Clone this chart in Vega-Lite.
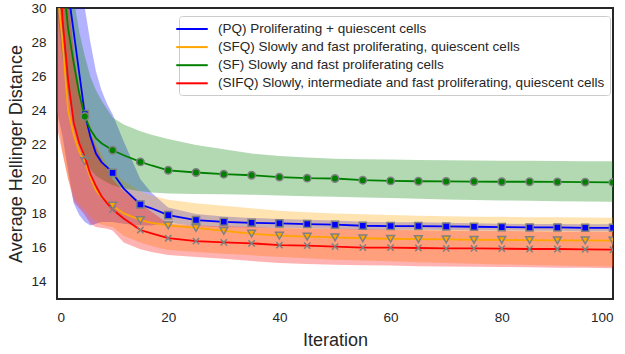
{
"$schema": "https://vega.github.io/schema/vega-lite/v6.json",
"width": 556, "height": 291,
"autosize": {"type": "none"},
"padding": {"left": 57, "top": 8, "right": 12, "bottom": 55},
"background": "white",
"datasets": {"d": [
{"k":"PQ","it":0,"m":42,"lo":24,"hi":50},
{"k":"PQ","it":1,"m":36,"lo":22.5,"hi":46},
{"k":"PQ","it":2,"m":31,"lo":20.5,"hi":40},
{"k":"PQ","it":3,"m":28.6,"lo":18.6,"hi":35},
{"k":"PQ","it":4,"m":26.2,"lo":17.9,"hi":32},
{"k":"PQ","it":5,"m":23.8,"lo":17.5,"hi":30},
{"k":"PQ","it":6,"m":22.5,"lo":17.3,"hi":28},
{"k":"PQ","it":7,"m":21.5,"lo":17.4,"hi":26.3},
{"k":"PQ","it":8,"m":21.0,"lo":17.5,"hi":25.2},
{"k":"PQ","it":9,"m":20.7,"lo":17.5,"hi":24.4},
{"k":"PQ","it":10,"m":20.37,"lo":17.5,"hi":23.8},
{"k":"PQ","it":12,"m":19.45,"lo":17.4,"hi":22.2},
{"k":"PQ","it":15,"m":18.52,"lo":17.3,"hi":20.0},
{"k":"PQ","it":17,"m":18.3,"lo":17.3,"hi":19.2},
{"k":"PQ","it":20,"m":17.9,"lo":17.45,"hi":18.35},
{"k":"PQ","it":25,"m":17.61,"lo":17.26,"hi":17.96},
{"k":"PQ","it":30,"m":17.51,"lo":17.2,"hi":17.82},
{"k":"PQ","it":35,"m":17.45,"lo":17.17,"hi":17.73},
{"k":"PQ","it":40,"m":17.42,"lo":17.16,"hi":17.68},
{"k":"PQ","it":45,"m":17.38,"lo":17.13,"hi":17.63},
{"k":"PQ","it":50,"m":17.34,"lo":17.1,"hi":17.58},
{"k":"PQ","it":55,"m":17.28,"lo":17.05,"hi":17.51},
{"k":"PQ","it":60,"m":17.26,"lo":17.04,"hi":17.48},
{"k":"PQ","it":65,"m":17.26,"lo":17.04,"hi":17.48},
{"k":"PQ","it":70,"m":17.24,"lo":17.03,"hi":17.45},
{"k":"PQ","it":75,"m":17.22,"lo":17.01,"hi":17.43},
{"k":"PQ","it":80,"m":17.2,"lo":17.0,"hi":17.4},
{"k":"PQ","it":85,"m":17.18,"lo":16.98,"hi":17.38},
{"k":"PQ","it":90,"m":17.18,"lo":16.98,"hi":17.38},
{"k":"PQ","it":95,"m":17.16,"lo":16.96,"hi":17.36},
{"k":"PQ","it":100,"m":17.16,"lo":16.96,"hi":17.36},
{"k":"SFQ","it":0,"m":31.3,"lo":24,"hi":40},
{"k":"SFQ","it":1,"m":28.0,"lo":21.5,"hi":35},
{"k":"SFQ","it":2,"m":24.0,"lo":20.0,"hi":30},
{"k":"SFQ","it":3,"m":22.6,"lo":19.0,"hi":27.5},
{"k":"SFQ","it":4,"m":21.6,"lo":18.5,"hi":25.8},
{"k":"SFQ","it":5,"m":21.05,"lo":18.2,"hi":24.5},
{"k":"SFQ","it":6,"m":20.1,"lo":17.8,"hi":23.2},
{"k":"SFQ","it":7,"m":19.35,"lo":17.5,"hi":22.2},
{"k":"SFQ","it":8,"m":18.95,"lo":17.35,"hi":21.5},
{"k":"SFQ","it":9,"m":18.65,"lo":17.25,"hi":20.9},
{"k":"SFQ","it":10,"m":18.45,"lo":17.2,"hi":20.5},
{"k":"SFQ","it":12,"m":18.0,"lo":16.7,"hi":19.9},
{"k":"SFQ","it":15,"m":17.61,"lo":16.3,"hi":19.3},
{"k":"SFQ","it":17,"m":17.45,"lo":16.1,"hi":19.05},
{"k":"SFQ","it":20,"m":17.3,"lo":15.86,"hi":18.8},
{"k":"SFQ","it":25,"m":17.15,"lo":15.75,"hi":18.6},
{"k":"SFQ","it":30,"m":16.98,"lo":15.65,"hi":18.45},
{"k":"SFQ","it":35,"m":16.82,"lo":15.55,"hi":18.3},
{"k":"SFQ","it":40,"m":16.7,"lo":15.45,"hi":18.15},
{"k":"SFQ","it":45,"m":16.64,"lo":15.38,"hi":18.07},
{"k":"SFQ","it":50,"m":16.6,"lo":15.3,"hi":18.0},
{"k":"SFQ","it":55,"m":16.55,"lo":15.25,"hi":17.95},
{"k":"SFQ","it":60,"m":16.52,"lo":15.2,"hi":17.9},
{"k":"SFQ","it":65,"m":16.5,"lo":15.15,"hi":17.86},
{"k":"SFQ","it":70,"m":16.48,"lo":15.1,"hi":17.83},
{"k":"SFQ","it":75,"m":16.46,"lo":15.06,"hi":17.81},
{"k":"SFQ","it":80,"m":16.45,"lo":15.02,"hi":17.8},
{"k":"SFQ","it":85,"m":16.44,"lo":14.99,"hi":17.78},
{"k":"SFQ","it":90,"m":16.43,"lo":14.95,"hi":17.77},
{"k":"SFQ","it":95,"m":16.42,"lo":14.92,"hi":17.76},
{"k":"SFQ","it":100,"m":16.41,"lo":14.9,"hi":17.75},
{"k":"SF","it":0,"m":38,"lo":30,"hi":44},
{"k":"SF","it":1,"m":32,"lo":27,"hi":38},
{"k":"SF","it":2,"m":28.8,"lo":25,"hi":34},
{"k":"SF","it":3,"m":26.8,"lo":23.5,"hi":30.6},
{"k":"SF","it":4,"m":25.0,"lo":22.2,"hi":28.6},
{"k":"SF","it":5,"m":23.66,"lo":21.2,"hi":27.2},
{"k":"SF","it":6,"m":22.9,"lo":20.6,"hi":26.0},
{"k":"SF","it":7,"m":22.4,"lo":20.2,"hi":25.2},
{"k":"SF","it":8,"m":22.1,"lo":20.0,"hi":24.6},
{"k":"SF","it":9,"m":21.9,"lo":19.8,"hi":24.1},
{"k":"SF","it":10,"m":21.69,"lo":19.65,"hi":23.6},
{"k":"SF","it":12,"m":21.4,"lo":19.45,"hi":23.2},
{"k":"SF","it":15,"m":21.01,"lo":19.3,"hi":22.8},
{"k":"SF","it":17,"m":20.8,"lo":19.22,"hi":22.6},
{"k":"SF","it":20,"m":20.52,"lo":19.17,"hi":22.35},
{"k":"SF","it":25,"m":20.39,"lo":19.14,"hi":22.0},
{"k":"SF","it":30,"m":20.29,"lo":19.12,"hi":21.75},
{"k":"SF","it":35,"m":20.23,"lo":19.09,"hi":21.5},
{"k":"SF","it":40,"m":20.12,"lo":19.05,"hi":21.35},
{"k":"SF","it":45,"m":20.06,"lo":19.0,"hi":21.27},
{"k":"SF","it":50,"m":20.04,"lo":18.97,"hi":21.2},
{"k":"SF","it":55,"m":19.94,"lo":18.93,"hi":21.17},
{"k":"SF","it":60,"m":19.9,"lo":18.9,"hi":21.15},
{"k":"SF","it":65,"m":19.88,"lo":18.86,"hi":21.12},
{"k":"SF","it":70,"m":19.87,"lo":18.82,"hi":21.1},
{"k":"SF","it":75,"m":19.86,"lo":18.79,"hi":21.09},
{"k":"SF","it":80,"m":19.85,"lo":18.76,"hi":21.08},
{"k":"SF","it":85,"m":19.85,"lo":18.74,"hi":21.07},
{"k":"SF","it":90,"m":19.84,"lo":18.71,"hi":21.06},
{"k":"SF","it":95,"m":19.83,"lo":18.69,"hi":21.05},
{"k":"SF","it":100,"m":19.81,"lo":18.68,"hi":21.05},
{"k":"SIFQ","it":0,"m":35.5,"lo":23,"hi":44},
{"k":"SIFQ","it":1,"m":29.3,"lo":21.5,"hi":37},
{"k":"SIFQ","it":2,"m":25.8,"lo":20.0,"hi":31},
{"k":"SIFQ","it":3,"m":23.3,"lo":18.7,"hi":27.5},
{"k":"SIFQ","it":4,"m":22.1,"lo":18.3,"hi":25.2},
{"k":"SIFQ","it":5,"m":21.3,"lo":17.9,"hi":23.7},
{"k":"SIFQ","it":6,"m":20.3,"lo":17.4,"hi":22.7},
{"k":"SIFQ","it":7,"m":19.6,"lo":17.2,"hi":21.9},
{"k":"SIFQ","it":8,"m":19.0,"lo":17.15,"hi":21.2},
{"k":"SIFQ","it":9,"m":18.6,"lo":17.1,"hi":20.6},
{"k":"SIFQ","it":10,"m":18.23,"lo":17.0,"hi":20.0},
{"k":"SIFQ","it":12,"m":17.7,"lo":16.3,"hi":19.3},
{"k":"SIFQ","it":15,"m":17.03,"lo":15.9,"hi":18.6},
{"k":"SIFQ","it":17,"m":16.83,"lo":15.75,"hi":18.1},
{"k":"SIFQ","it":20,"m":16.55,"lo":15.57,"hi":17.4},
{"k":"SIFQ","it":25,"m":16.38,"lo":15.45,"hi":17.3},
{"k":"SIFQ","it":30,"m":16.31,"lo":15.35,"hi":17.25},
{"k":"SIFQ","it":35,"m":16.25,"lo":15.22,"hi":17.2},
{"k":"SIFQ","it":40,"m":16.15,"lo":15.1,"hi":17.15},
{"k":"SIFQ","it":45,"m":16.12,"lo":15.05,"hi":17.12},
{"k":"SIFQ","it":50,"m":16.06,"lo":15.0,"hi":17.1},
{"k":"SIFQ","it":55,"m":16.0,"lo":14.97,"hi":17.07},
{"k":"SIFQ","it":60,"m":16.0,"lo":14.95,"hi":17.05},
{"k":"SIFQ","it":65,"m":15.98,"lo":14.92,"hi":17.02},
{"k":"SIFQ","it":70,"m":15.96,"lo":14.9,"hi":17.0},
{"k":"SIFQ","it":75,"m":15.96,"lo":14.88,"hi":16.98},
{"k":"SIFQ","it":80,"m":15.94,"lo":14.87,"hi":16.97},
{"k":"SIFQ","it":85,"m":15.92,"lo":14.85,"hi":16.96},
{"k":"SIFQ","it":90,"m":15.92,"lo":14.83,"hi":16.95},
{"k":"SIFQ","it":95,"m":15.9,"lo":14.82,"hi":16.94},
{"k":"SIFQ","it":100,"m":15.88,"lo":14.8,"hi":16.93}
]},
"data": {"name": "d"},
"encoding": {
  "x": {"field": "it", "type": "quantitative", "scale": {"domain": [0, 100], "nice": false, "zero": false},
        "axis": {"values": [0, 20, 40, 60, 80, 100], "tickCount": 20, "title": "Iteration", "labelPadding": 11, "titlePadding": 8, "labelOverlap": false}}
},
"layer": [
  {"transform": [{"filter": "datum.k == 'PQ'"}], "mark": {"type": "area", "color": "#0000ff", "opacity": 0.3, "clip": true},
   "encoding": {"y": {"field": "lo", "type": "quantitative", "scale": {"domain": [13, 30], "nice": false, "zero": false},
     "axis": {"values": [14, 16, 18, 20, 22, 24, 26, 28, 30], "tickCount": 20, "title": "Average Hellinger Distance", "labelPadding": 11, "titlePadding": 5, "labelOverlap": false}},
     "y2": {"field": "hi"}}},
  {"transform": [{"filter": "datum.k == 'SFQ'"}], "mark": {"type": "area", "color": "#ffa500", "opacity": 0.3, "clip": true},
   "encoding": {"y": {"field": "lo", "type": "quantitative"}, "y2": {"field": "hi"}}},
  {"transform": [{"filter": "datum.k == 'SF'"}], "mark": {"type": "area", "color": "#008000", "opacity": 0.3, "clip": true},
   "encoding": {"y": {"field": "lo", "type": "quantitative"}, "y2": {"field": "hi"}}},
  {"transform": [{"filter": "datum.k == 'SIFQ'"}], "mark": {"type": "area", "color": "#ff0000", "opacity": 0.3, "clip": true},
   "encoding": {"y": {"field": "lo", "type": "quantitative"}, "y2": {"field": "hi"}}},

  {"transform": [{"filter": "datum.k == 'PQ'"}], "mark": {"type": "line", "strokeWidth": 1.8, "clip": true},
   "encoding": {"y": {"field": "m", "type": "quantitative"},
     "color": {"field": "k", "type": "nominal", "scale": {"domain": ["PQ", "SFQ", "SF", "SIFQ"], "range": ["#0000ff", "#ffa500", "#008000", "#ff0000"]},
       "legend": {"orient": "none", "legendX": 122, "legendY": 8, "title": null,
         "labelExpr": "datum.value == 'PQ' ? '(PQ) Proliferating + quiescent cells' : datum.value == 'SFQ' ? '(SFQ) Slowly and fast proliferating, quiescent cells' : datum.value == 'SF' ? '(SF) Slowly and fast proliferating cells' : '(SIFQ) Slowly, intermediate and fast proliferating, quiescent cells'"}}}},
  {"transform": [{"filter": "datum.k == 'PQ' && datum.it % 5 == 0"}], "mark": {"type": "point", "shape": "square", "filled": true, "fill": "#0000ff", "stroke": "#808080", "strokeWidth": 1.5, "size": 50, "opacity": 1, "clip": true},
   "encoding": {"y": {"field": "m", "type": "quantitative"}}},
  {"transform": [{"filter": "datum.k == 'SFQ'"}], "mark": {"type": "line", "strokeWidth": 1.8, "clip": true},
   "encoding": {"y": {"field": "m", "type": "quantitative"}, "color": {"field": "k", "type": "nominal"}}},
  {"transform": [{"filter": "datum.k == 'SFQ' && datum.it % 5 == 0"}], "mark": {"type": "point", "shape": "triangle-down", "filled": true, "fill": "#ffa500", "stroke": "#808080", "strokeWidth": 1.5, "size": 60, "opacity": 1, "clip": true},
   "encoding": {"y": {"field": "m", "type": "quantitative"}}},
  {"transform": [{"filter": "datum.k == 'SF'"}], "mark": {"type": "line", "strokeWidth": 1.8, "clip": true},
   "encoding": {"y": {"field": "m", "type": "quantitative"}, "color": {"field": "k", "type": "nominal"}}},
  {"transform": [{"filter": "datum.k == 'SF' && datum.it % 5 == 0"}], "mark": {"type": "point", "shape": "circle", "filled": true, "fill": "#008000", "stroke": "#808080", "strokeWidth": 1.5, "size": 55, "opacity": 1, "clip": true},
   "encoding": {"y": {"field": "m", "type": "quantitative"}}},
  {"transform": [{"filter": "datum.k == 'SIFQ'"}], "mark": {"type": "line", "strokeWidth": 1.8, "clip": true},
   "encoding": {"y": {"field": "m", "type": "quantitative"}, "color": {"field": "k", "type": "nominal"}}},
  {"transform": [{"filter": "datum.k == 'SIFQ' && datum.it % 5 == 0"}], "mark": {"type": "point", "shape": "M-1,-1L1,1M-1,1L1,-1", "filled": false, "stroke": "#808080", "strokeWidth": 1.5, "size": 40, "opacity": 1, "clip": true},
   "encoding": {"y": {"field": "m", "type": "quantitative"}}}
],
"config": {
  "view": {"stroke": "#262626", "strokeWidth": 2},
  "axis": {"domain": false, "ticks": false, "grid": false, "labelOverlap": false, "labelFont": "Liberation Sans", "labelFontSize": 13.5, "labelColor": "#262626",
           "titleFont": "Liberation Sans", "titleFontSize": 18, "titleFontWeight": "normal", "titleColor": "#262626"},
  "legend": {"symbolType": "M-2.25,0L2.25,0", "symbolSize": 196, "symbolStrokeWidth": 2, "labelFont": "Liberation Sans", "labelFontSize": 13.5,
             "labelColor": "#262626", "fillColor": "white", "strokeColor": "#cccccc", "cornerRadius": 3, "padding": 5, "rowPadding": 3.1,
             "labelLimit": 500, "labelOffset": 18}
}
}
